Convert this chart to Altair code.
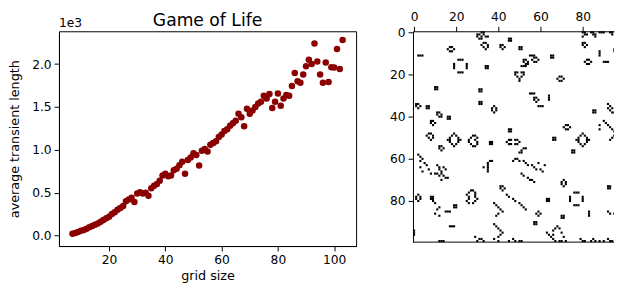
import altair as alt
import pandas as pd

# ---------------- left panel data: grid size vs. average transient length
grid_size = list(range(7, 104))
transient = [20, 30, 40, 55, 65, 80, 95, 110, 125, 140, 160, 180, 200, 220, 250, 270,
             300, 320, 345, 400, 420, 440, 390, 490, 505, 490, 500, 465, 550, 580, 600,
             640, 700, 720, 690, 700, 760, 780, 820, 860, 722, 880, 910, 960, 940, 817,
             990, 1010, 980, 1060, 1080, 1100, 1150, 1180, 1220, 1240, 1280, 1310, 1340,
             1420, 1380, 1275, 1480, 1420, 1460, 1500, 1540, 1560, 1630, 1600, 1650, 1489,
             1560, 1656, 1515, 1600, 1640, 1630, 1745, 1897, 1800, 1782, 1880, 1974, 2050,
             2000, 2240, 2031, 1879, 1782, 2019, 1790, 1962, 1960, 2176, 1943, 2280]

# ---------------- right panel data: live cells of the 100x100 board
pat_name = ["blinker_h", "beehive_h", "blinker_h", "blinker_h", "blinker_v", "blinker_v",
            "block", "block", "ship", "loaf", "block", "boat", "block", "blinker_h",
            "block", "ship", "beehive_h", "block", "blinker_h", "blinker_h", "boat",
            "blinker_v", "boat", "blinker_v", "block", "beehive_h", "blinker_h", "beehive_h",
            "boat", "block", "ship", "boat", "block", "block", "loaf", "boat", "beehive_v",
            "blinker_h", "block", "block", "block", "block", "beehive_h", "block",
            "beehive_v", "block", "blinker_h", "block", "blinker_h", "blinker_v",
            "blinker_h", "boat", "block", "tub", "block", "beehive_v", "block",
            "blinker_h", "blinker_h", "blinker_v", "blinker_v", "block", "blinker_v"]
pat_row = [11, 7, 13, 19, 15, 15, 26, 27, 1, 5, 3, 6, 7, 11,
           11, 13, 12, 16, 16, 29, 31,
           30, 5, 9, 8, 13, 14, 21,
           34, 35, 38, 42, 40, 33, 48, 54, 35,
           35, 46, 50, 52, 37, 44, 56,
           77, 78, 85, 82, 92, 94,
           99, 73, 79, 85, 90, 70, 73,
           76, 82, 78, 78, 87, 85]
pat_col = [2, 16, 21, 21, 19, 25, 10, 31, 30, 32, 45, 41, 50, 55,
           65, 52, 56, 34, 51, 55, 57,
           64, 80, 88, 95, 81, 90, 68,
           1, 6, 11, 8, 16, 31, 6, 12, 37,
           59, 45, 66, 36, 85, 71, 75,
           1, 8, 15, 19, 17, 0,
           12, 41, 63, 58, 57, 70, 92,
           76, 76, 74, 80, 70, 83]

# irregular debris cells (row, col)
extra_row = [0, 0, 1, 1, 2, 0, 0, 1, 1, 2, 0, 0, 0, 0, 0, 1, 0, 0,
             19, 19, 19, 19, 20, 20, 21, 21, 22, 23,
             48, 49, 49, 50, 50, 51, 51, 51, 51, 52, 52, 53, 53, 54,
             49, 49, 50, 50, 51, 51, 52, 52, 53, 53, 54, 54,
             51, 51, 51, 51, 52, 52, 53, 53, 53, 53,
             55, 55, 56, 57, 57,
             61, 61, 62, 63, 64, 65, 66, 64,
             60, 61, 61, 62, 63, 63, 64, 65, 65, 66, 62, 63, 60, 61,
             34, 35, 36, 36, 37, 38, 38,
             48, 49, 49, 50, 50, 51, 51, 51, 51, 52, 52, 53, 53, 54,
             42, 43, 44, 45, 46, 47, 48, 49, 50, 51, 44, 46,
             58, 59, 60, 61, 62, 63, 64, 65, 66, 67,
             63, 64, 65, 66, 67, 65, 64,
             67, 67, 68, 68, 69, 69, 70,
             75, 75, 76, 76, 77, 77, 78, 78, 79, 79, 80, 80, 81, 81,
             80, 81, 83, 84, 86, 87,
             97, 98, 98, 99, 99,
             67, 68, 69, 70, 70, 71,
             77, 78, 79, 80, 81, 82, 83, 84,
             81, 82, 83, 84, 85, 86, 87,
             91, 92, 93, 94, 95, 96, 97,
             98, 99, 99, 98, 99, 99, 99,
             95, 96, 97, 98, 99,
             85, 86, 86, 87, 88, 89, 89, 90,
             92, 93, 93, 94, 95, 96, 97, 98, 99, 99, 99, 99,
             98, 99, 99, 99, 98, 99, 99, 99, 98, 99, 99, 97, 98,
             0, 0, 1, 2, 2]
extra_col = [80, 81, 81, 82, 80, 84, 85, 85, 86, 86, 88, 89, 90, 93, 94, 94, 96, 97,
             48, 49, 51, 52, 48, 52, 49, 51, 50, 50,
             19, 18, 20, 17, 21, 16, 17, 21, 22, 17, 21, 18, 20, 19,
             28, 29, 27, 30, 26, 29, 26, 30, 27, 30, 28, 29,
             45, 46, 48, 49, 44, 50, 45, 46, 48, 49,
             52, 53, 51, 50, 51,
             36, 37, 35, 35, 35, 35, 35, 33,
             49, 50, 52, 53, 54, 56, 57, 58, 60, 61, 59, 62, 48, 47,
             92, 93, 92, 94, 93, 94, 95,
             80, 79, 81, 78, 82, 77, 78, 82, 83, 78, 82, 79, 81, 80,
             90, 91, 92, 93, 94, 95, 96, 95, 94, 93, 88, 88,
             2, 3, 4, 3, 5, 6, 3, 7, 4, 8,
             11, 12, 12, 13, 13, 15, 14,
             10, 11, 12, 14, 15, 16, 13,
             27, 28, 26, 29, 25, 29, 26, 29, 26, 30, 25, 29, 26, 28,
             9, 10, 12, 11, 10, 12,
             29, 31, 32, 30, 33,
             51, 52, 54, 55, 56, 57,
             44, 45, 47, 48, 50, 51, 52, 53,
             38, 39, 40, 41, 42, 40, 39,
             38, 39, 40, 41, 42, 41, 40,
             38, 40, 45, 47, 48, 50, 51,
             63, 64, 65, 66, 67,
             92, 93, 95, 96, 97, 98, 99, 98,
             68, 67, 69, 66, 70, 66, 71, 66, 67, 69, 70, 72,
             79, 80, 81, 84, 85, 86, 88, 90, 92, 93, 94, 96, 97,
             32, 33, 33, 34, 35]

SHAPES = {
    "block": [(0, 0), (0, 1), (1, 0), (1, 1)],
    "blinker_h": [(0, 0), (0, 1), (0, 2)],
    "blinker_v": [(0, 0), (1, 0), (2, 0)],
    "beehive_h": [(0, 1), (0, 2), (1, 0), (1, 3), (2, 1), (2, 2)],
    "beehive_v": [(0, 1), (1, 0), (1, 2), (2, 0), (2, 2), (3, 1)],
    "loaf": [(0, 1), (0, 2), (1, 0), (1, 3), (2, 1), (2, 3), (3, 2)],
    "boat": [(0, 0), (0, 1), (1, 0), (1, 2), (2, 1)],
    "ship": [(0, 0), (0, 1), (1, 0), (1, 2), (2, 1), (2, 2)],
    "tub": [(0, 1), (1, 0), (1, 2), (2, 1)],
}

cells = set()
for name, r0, c0 in zip(pat_name, pat_row, pat_col):
    for dr, dc in SHAPES[name]:
        cells.add((r0 + dr, c0 + dc))
for r, c in zip(extra_row, extra_col):
    cells.add((r, c))
cells = sorted((r, c) for r, c in cells if 0 <= r < 100 and 0 <= c < 100)

FONT = "DejaVu Sans"
tick_vals = [0, 500, 1000, 1500, 2000]
W, H = 303, 219
BW, BH = 205, 215                # board panel: visible part of the 100x100 image
CELL = BH / 100.0
visible_edge = BW / CELL - 0.5   # the image runs past the window edge

board = pd.DataFrame({"row": [r for r, c in cells], "col": [c for r, c in cells]})
board["r0"] = board["row"] - 0.5
board["r1"] = board["row"] + 0.5
board["c0"] = board["col"] - 0.5
board["c1"] = board["col"] + 0.5
board = board[board["c0"] < visible_edge].copy()
board["c1"] = board["c1"].clip(upper=visible_edge)

scatter_df = pd.DataFrame({"grid": grid_size, "length": transient})

points = alt.Chart(scatter_df).mark_circle(size=44, color="#8b0000", opacity=1).encode(
    x=alt.X("grid:Q", scale=alt.Scale(domain=[2.2, 107.8], nice=False, zero=False),
            axis=alt.Axis(values=[20, 40, 60, 80, 100], title="grid size")),
    y=alt.Y("length:Q", scale=alt.Scale(domain=[-123, 2383], nice=False, zero=False),
            axis=alt.Axis(values=tick_vals, title="average transient length",
                          labelExpr="format(datum.value / 1000, '.1f')", titlePadding=10)),
)
offset_text = alt.Chart(pd.DataFrame({"t": ["1e3"]})).mark_text(
    align="left", baseline="alphabetic", fontSize=12.5, font=FONT, color="black"
).encode(text="t:N", x=alt.value(0), y=alt.value(-4))
title_text = alt.Chart(pd.DataFrame({"t": ["Game of Life"]})).mark_text(
    align="center", baseline="alphabetic", fontSize=17.5, font=FONT, color="black"
).encode(text="t:N", x=alt.value(W / 2), y=alt.value(-5))

left = alt.layer(points, offset_text, title_text).properties(width=W, height=H)

cells_layer = alt.Chart(board).mark_rect(color="black", strokeWidth=0).encode(
    x=alt.X("c0:Q", scale=alt.Scale(domain=[-0.5, visible_edge], nice=False, zero=False),
            axis=alt.Axis(orient="top", values=[0, 20, 40, 60, 80], title=None)),
    x2="c1:Q",
    y=alt.Y("r0:Q", scale=alt.Scale(domain=[-0.5, 99.5], nice=False, zero=False, reverse=True),
            axis=alt.Axis(values=[0, 20, 40, 60, 80], title=None)),
    y2="r1:Q",
)
bottom_spine = alt.Chart(pd.DataFrame({"k": [0]})).mark_rule(color="black", strokeWidth=1).encode(
    x=alt.value(0), x2=alt.value(BW), y=alt.value(BH)
)
right = alt.layer(cells_layer, bottom_spine).properties(
    width=BW, height=BH, view=alt.ViewBackground(stroke=None)
)

chart = alt.hconcat(left, right, spacing=33).properties(
    padding={"left": 0, "top": 0, "right": 0, "bottom": 0}
).configure_view(stroke="black", strokeWidth=1).configure_axis(
    grid=False, domainColor="black", tickColor="black", labelColor="black",
    titleColor="black", labelFont=FONT, titleFont=FONT, labelFontSize=12.5,
    titleFontSize=13, titleFontWeight="normal", tickSize=5, labelPadding=3,
    domainWidth=1, tickWidth=1,
)

chart.save("out.html", embed_options={"renderer": "svg", "actions": False})
